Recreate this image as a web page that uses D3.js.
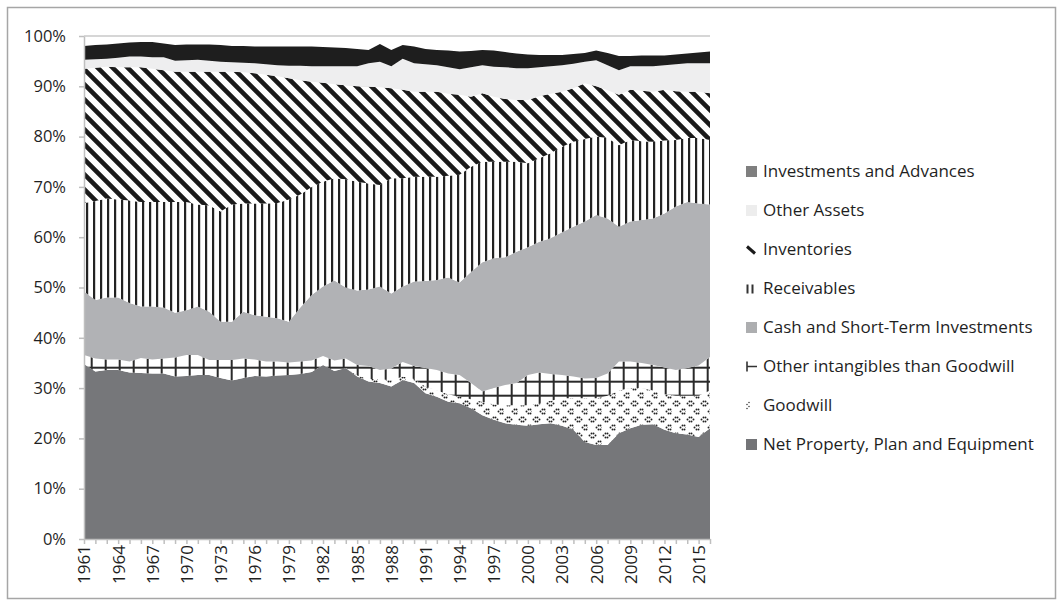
<!DOCTYPE html>
<html>
<head>
<meta charset="utf-8">
<script src="https://cdn.jsdelivr.net/npm/d3@7"></script>
<style>
  body { margin: 0; background: #fff; }
  svg { display: block; font-family: "Open Sans", sans-serif; }
</style>
</head>
<body>
<div id="chart"></div>
<script>
// categories and tick labels
const years = d3.range(1961, 2017);
const xTickYears = [1961, 1964, 1967, 1970, 1973, 1976, 1979, 1982, 1985, 1988, 1991, 1994, 1997, 2000, 2003, 2006, 2009, 2012, 2015];
const yTicks = [0, 10, 20, 30, 40, 50, 60, 70, 80, 90, 100];

// shares of total assets (%), 1961..2016, bottom of the stack first
const netProperty = [34.8, 33.3, 33.6, 33.6, 33.1, 33.0, 32.9, 32.9, 32.3, 32.4,
  32.6, 32.6, 32.0, 31.5, 32.0, 32.4, 32.3, 32.5, 32.6, 32.8,
  33.2, 34.6, 33.4, 34.0, 32.3, 31.3, 31.0, 30.3, 31.6, 31.0,
  29.0, 28.3, 27.3, 27.0, 26.0, 24.6, 23.7, 23.0, 22.7, 22.5,
  22.8, 23.0, 22.5, 21.7, 19.3, 18.7, 18.7, 21.0, 22.0, 22.7,
  22.8, 21.7, 21.0, 20.8, 20.3, 22.0];
const goodwill = [0, 0, 0, 0, 0, 0, 0, 0, 0, 0,
  0, 0, 0, 0, 0, 0, 0, 0, 0, 0,
  0, 0, 0, 0, 0.2, 0.5, 0.8, 1.2, 0.7, 0.8,
  1.3, 1.2, 1.5, 1.3, 1.8, 2.7, 3.1, 3.6, 3.9, 4.1,
  4.2, 4.5, 5.5, 6.3, 8.7, 9.3, 9.8, 8.5, 8.0, 7.3,
  6.7, 7.1, 7.5, 7.7, 8.2, 7.5];
const otherIntangibles = [1.8, 2.6, 2.1, 2.1, 2.2, 3.0, 2.8, 3.0, 3.8, 4.2,
  4.0, 3.0, 3.6, 4.1, 3.9, 3.3, 3.0, 2.8, 2.5, 2.5,
  2.3, 1.8, 2.1, 1.9, 2.1, 2.6, 1.8, 2.4, 2.9, 2.6,
  3.7, 4.1, 4.1, 4.3, 3.2, 2.0, 3.2, 4.0, 4.4, 6.0,
  6.1, 5.3, 4.6, 4.3, 3.9, 4.0, 4.4, 5.8, 5.3, 5.0,
  5.1, 5.3, 5.1, 5.5, 6.0, 6.7];
const cash = [12.6, 11.6, 12.3, 12.3, 11.6, 10.2, 10.5, 10.1, 8.9, 8.9,
  9.6, 9.6, 7.6, 7.6, 9.3, 8.8, 8.9, 8.6, 8.1, 10.7,
  13.0, 13.8, 15.9, 14.1, 14.8, 15.2, 16.6, 14.9, 15.0, 16.8,
  17.3, 17.9, 19.1, 18.4, 22.1, 25.7, 25.8, 25.4, 26.1, 25.4,
  26.0, 27.0, 28.4, 29.8, 31.2, 32.4, 30.8, 26.8, 27.8, 28.4,
  29.1, 30.6, 32.5, 33.0, 32.2, 30.3];
const receivables = [17.6, 19.7, 19.7, 19.5, 20.4, 20.8, 20.8, 21.0, 22.0, 21.5,
  20.3, 21.1, 21.9, 23.3, 21.5, 22.2, 22.5, 22.9, 24.3, 22.5,
  21.5, 20.8, 20.3, 21.5, 21.6, 21.1, 20.2, 22.9, 21.5, 20.8,
  20.7, 20.5, 20.2, 21.4, 20.9, 20.0, 19.2, 19.0, 17.9, 16.7,
  16.6, 16.9, 17.0, 16.9, 16.4, 15.6, 16.0, 16.2, 16.2, 15.7,
  15.3, 14.5, 13.2, 12.7, 13.0, 12.8];
const inventories = [26.7, 26.5, 26.2, 26.3, 26.5, 26.8, 26.5, 26.2, 25.9, 25.9,
  26.4, 26.6, 27.8, 26.4, 26.1, 25.9, 25.6, 25.2, 24.1, 22.7,
  20.9, 19.7, 18.7, 18.7, 19.0, 19.2, 19.4, 17.9, 17.6, 16.9,
  16.9, 16.9, 16.3, 15.9, 13.9, 13.6, 12.9, 12.5, 12.3, 12.6,
  12.3, 11.8, 10.9, 10.6, 11.1, 10.0, 9.5, 10.0, 10.0, 10.0,
  9.9, 10.1, 9.7, 9.2, 9.2, 9.3];
const otherAssets = [1.8, 1.7, 1.6, 1.9, 2.1, 2.1, 2.3, 2.6, 2.2, 2.3,
  2.4, 2.2, 2.0, 1.9, 1.9, 2.0, 2.1, 2.2, 2.5, 2.9,
  3.1, 3.3, 3.6, 3.8, 4.0, 4.7, 5.1, 4.4, 6.2, 5.7,
  5.5, 5.3, 5.3, 5.1, 5.9, 5.6, 6.0, 6.3, 6.3, 6.3,
  5.8, 5.5, 5.3, 4.9, 4.3, 5.2, 5.0, 4.9, 4.7, 4.9,
  5.1, 4.9, 5.4, 5.7, 5.7, 6.0];
const investments = [2.7, 2.8, 2.8, 2.8, 2.8, 2.9, 3.0, 2.7, 3.1, 3.1,
  3.0, 3.2, 3.3, 3.2, 3.3, 3.3, 3.5, 3.7, 3.8, 3.8,
  3.9, 3.8, 3.7, 3.6, 3.4, 2.6, 3.5, 3.2, 2.7, 3.3,
  3.0, 3.0, 3.3, 3.5, 3.2, 3.0, 3.2, 3.0, 2.9, 2.7,
  2.4, 2.2, 2.0, 1.9, 1.7, 1.9, 2.4, 2.8, 2.0, 2.1,
  2.1, 1.9, 1.9, 1.9, 2.1, 2.3];

const seriesNames = ["Net Property, Plan and Equipment", "Goodwill", "Other intangibles than Goodwill",
  "Cash and Short-Term Investments", "Receivables", "Inventories", "Other Assets", "Investments and Advances"];
const seriesValues = [netProperty, goodwill, otherIntangibles, cash, receivables, inventories, otherAssets, investments];

let width = 1063;
let height = 606;
let plot = { left: 84, right: 710, top: 36, bottom: 539 };

// fill for each series (same order as seriesNames)
const fills = ["#76777a", "url(#pGoodwill)", "url(#pGrid)", "#b1b2b5",
  "url(#pVert)", "url(#pDiag)", "#eeeeef", "#1e1e1e"];

let rows = years.map((y, i) => {
  let r = { year: y };
  seriesNames.forEach((n, k) => r[n] = seriesValues[k][i]);
  return r;
});

let svg = d3.select("#chart").append("svg")
  .attr("width", width)
  .attr("height", height);

// patterns
let defs = svg.append("defs");

let pDiag = defs.append("pattern").attr("id", "pDiag")
  .attr("patternUnits", "userSpaceOnUse").attr("width", 15).attr("height", 15);
pDiag.append("rect").attr("width", 15).attr("height", 15).attr("fill", "#fff");
pDiag.append("path").attr("d", "M-5,-5L20,20M10,-5L20,5M-5,10L5,20")
  .attr("stroke", "#1a1a1a").attr("stroke-width", 4.6);

let pVert = defs.append("pattern").attr("id", "pVert")
  .attr("patternUnits", "userSpaceOnUse").attr("width", 7).attr("height", 7);
pVert.append("rect").attr("width", 7).attr("height", 7).attr("fill", "#fff");
pVert.append("rect").attr("x", 2).attr("width", 2.2).attr("height", 7).attr("fill", "#222");

let pGrid = defs.append("pattern").attr("id", "pGrid")
  .attr("patternUnits", "userSpaceOnUse").attr("width", 14).attr("height", 14);
pGrid.append("rect").attr("width", 14).attr("height", 14).attr("fill", "#fff");
pGrid.append("rect").attr("x", 6.7).attr("width", 2).attr("height", 14).attr("fill", "#2a2a2a");
pGrid.append("rect").attr("y", 2.7).attr("width", 14).attr("height", 2).attr("fill", "#2a2a2a");

let pGood = defs.append("pattern").attr("id", "pGoodwill")
  .attr("patternUnits", "userSpaceOnUse").attr("width", 14).attr("height", 16);
pGood.append("rect").attr("width", 14).attr("height", 16).attr("fill", "#fff");
// small "<" and ">" marks made of dots
function chevron (g, x, y, left) {
  let pts = left ? [[x + 2, y], [x, y + 2], [x + 2, y + 4]] : [[x, y], [x + 2, y + 2], [x, y + 4]];
  pts.forEach(p => g.append("circle").attr("cx", p[0]).attr("cy", p[1]).attr("r", 0.95).attr("fill", "#222"));
}
chevron(pGood, 1.5, 1.5, true);
chevron(pGood, 5.5, 1.5, false);
chevron(pGood, 8.5, 9.5, true);
chevron(pGood, 12.5, 9.5, false);

// scales
let x = d3.scalePoint().domain(years).range([plot.left, plot.right]);
let y = d3.scaleLinear().domain([0, 100]).range([plot.bottom, plot.top]);

// gridlines
svg.append("g").selectAll("line").data(yTicks.slice(1)).enter().append("line")
  .attr("x1", plot.left).attr("x2", plot.right)
  .attr("y1", d => y(d)).attr("y2", d => y(d))
  .attr("stroke", "#c8c8c8").attr("stroke-width", 1.5);

// stacked areas
let stack = d3.stack().keys(seriesNames)(rows);
let area = d3.area()
  .x(d => x(d.data.year))
  .y0(d => y(d[0]))
  .y1(d => y(d[1]));

svg.append("g").selectAll("path").data(stack).enter().append("path")
  .attr("d", area)
  .attr("fill", (d, i) => fills[i]);

// y axis
let yAxis = svg.append("g")
  .attr("transform", `translate(${plot.left},0)`)
  .call(d3.axisLeft(y).tickValues(yTicks).tickFormat(d => d + "%").tickSize(5).tickSizeOuter(0).tickPadding(13));
yAxis.select(".domain").attr("stroke", "#bfbfbf").attr("stroke-width", 1.5);
yAxis.selectAll(".tick line").attr("stroke", "#bfbfbf").attr("stroke-width", 1.5);
yAxis.selectAll("text").attr("font-size", 16.5).attr("fill", "#1f1f1f")
  .style("font-family", "'Open Sans', sans-serif");

// x axis
let xAxis = svg.append("g")
  .attr("transform", `translate(0,${plot.bottom})`)
  .call(d3.axisBottom(x).tickFormat(d => xTickYears.includes(d) ? d : "").tickSize(5).tickSizeOuter(0));
xAxis.select(".domain").attr("stroke", "#bfbfbf").attr("stroke-width", 1.5);
xAxis.selectAll(".tick line").attr("stroke", "#bfbfbf").attr("stroke-width", 1.5);
xAxis.selectAll("text")
  .attr("transform", "rotate(-90)")
  .attr("text-anchor", "end")
  .attr("x", -6).attr("y", 0).attr("dy", "0.35em")
  .attr("font-size", 17).attr("fill", "#1f1f1f")
  .style("font-family", "'Open Sans', sans-serif");

// legend (top to bottom)
let legendItems = [
  { name: "Investments and Advances", kind: "box", color: "#7f7f7f" },
  { name: "Other Assets", kind: "box", color: "#ededed" },
  { name: "Inventories", kind: "diag" },
  { name: "Receivables", kind: "vert" },
  { name: "Cash and Short-Term Investments", kind: "box", color: "#adaeb0" },
  { name: "Other intangibles than Goodwill", kind: "tee" },
  { name: "Goodwill", kind: "dots" },
  { name: "Net Property, Plan and Equipment", kind: "box", color: "#737477" }
];

let legend = svg.append("g");
legendItems.forEach((d, i) => {
  let g = legend.append("g").attr("transform", `translate(746,${171.5 + i * 39})`);
  if (d.kind === "box") {
    g.append("rect").attr("x", 0).attr("y", -5.5).attr("width", 11).attr("height", 11).attr("fill", d.color);
  } else if (d.kind === "diag") {
    g.append("path").attr("d", "M1,-3L9,4").attr("stroke", "#1a1a1a").attr("stroke-width", 3);
  } else if (d.kind === "vert") {
    g.append("rect").attr("x", 0.5).attr("y", -4).attr("width", 2).attr("height", 9).attr("fill", "#333");
    g.append("rect").attr("x", 5.5).attr("y", -4).attr("width", 2).attr("height", 9).attr("fill", "#333");
  } else if (d.kind === "tee") {
    g.append("path").attr("d", "M1,-5V5M1,0H11").attr("stroke", "#333").attr("stroke-width", 1.6).attr("fill", "none");
  } else if (d.kind === "dots") {
    [[3, -3], [1, -1], [3, 1], [1, 3]].forEach(p => g.append("circle")
      .attr("cx", p[0]).attr("cy", p[1]).attr("r", 0.8).attr("fill", "#444"));
  }
  g.append("text").attr("x", 17).attr("dy", "0.35em")
    .attr("font-size", 17).attr("fill", "#1f1f1f").text(d.name);
});

// outer border
svg.append("rect")
  .attr("x", 7.5).attr("y", 7.5)
  .attr("width", 1048).attr("height", 591)
  .attr("fill", "none").attr("stroke", "#a6a6a6").attr("stroke-width", 1.5);
</script>
</body>
</html>
